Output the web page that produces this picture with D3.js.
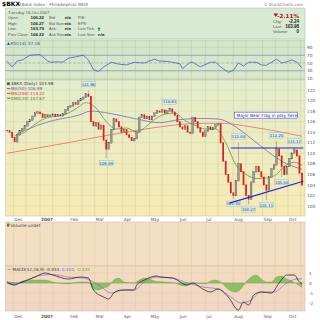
<!DOCTYPE html>
<html>
<head>
<meta charset="utf-8">
<script src="https://cdn.jsdelivr.net/npm/d3@7"></script>
<style>
  body { margin: 0; background: #fff; }
  svg { display: block; font-family: "DejaVu Sans", Verdana, sans-serif; }
</style>
</head>
<body>
<div id="chart"></div>
<script>
// Closing prices, one per two trading days, from 24-Nov-2006 to 16-Oct-2007
const closes = [
  114.3, 114.0, 113.0, 112.2, 113.5, 114.3, 114.6, 115.2, 116.0, 116.3,
  117.0, 117.6, 117.8, 117.5, 116.8, 117.3, 117.0, 117.2, 117.4, 117.0,
  117.3, 117.1, 117.5, 118.2, 118.8, 119.0, 119.6, 119.3, 120.0, 120.3,
  120.6, 121.2, 120.8, 116.0, 115.2, 115.8, 114.6, 115.3, 112.5, 110.8,
  112.0, 114.5, 116.5, 116.0, 115.0, 114.0, 114.5, 113.5, 113.0, 112.4,
  112.8, 114.0, 116.8, 117.3, 116.6, 117.0, 116.4, 117.0, 117.6, 118.0,
  117.8, 118.2, 117.6, 118.0, 118.4, 117.8, 117.2, 116.0, 115.0, 114.6,
  115.2, 114.0, 113.8, 116.8, 116.0, 114.8, 114.0, 113.2, 114.2, 115.0,
  114.5, 114.8, 115.4, 115.6, 112.0, 108.5, 106.0, 104.5, 102.5, 102.0,
  104.8, 108.0, 106.5, 104.0, 102.0, 101.3, 104.5, 106.5, 107.5, 106.5,
  105.5, 104.0, 103.0, 105.5, 107.0, 107.8, 110.8, 109.5, 107.5, 106.0,
  107.5, 109.0, 110.0, 110.6, 109.5, 106.22, 103.98
];

// labelled highs and lows: [sample, price, type]
const extremes = [
  [32, 121.96, "high"], [39, 109.09, "low"], [64, 118.61, "high"],
  [89, 101.40, "low"], [91, 112.04, "high"], [95, 100.27, "low"],
  [102, 101.11, "low"], [106, 112.25, "high"], [108, 105.50, "low"],
  [113, 111.17, "high"]
];

// moving averages: [sample, value]
const ma50 = [[4,113.7],[12,115.3],[18,116.2],[28,117.2],[33,118.0],[40,117.6],[50,116.6],[60,115.8],
  [68,116.4],[76,116.6],[83,116.5],[88,115.6],[92,114.3],[96,112.8],[100,111.3],[104,109.8],[108,108.5],
  [112,107.6],[116,106.99]];
const ma200 = [[0,110.0],[12,111.0],[24,112.0],[36,113.1],[48,114.1],[60,115.0],[72,115.6],[84,115.7],
  [96,115.0],[108,114.0],[116,113.22]];
const ema20 = [[3,113.3],[7,114.0],[11,115.5],[15,116.6],[19,117.0],[23,117.4],[27,118.4],[31,119.6],
  [35,118.6],[39,116.0],[43,114.6],[47,114.8],[51,114.0],[55,115.2],[58,116.4],[62,117.4],[66,117.6],
  [70,116.2],[74,115.3],[78,114.6],[82,114.6],[86,112.0],[90,107.8],[94,106.0],[98,105.2],[102,105.3],
  [106,106.0],[109,107.5],[113,108.3],[116,107.67]];

const rsi = [[0,55],[2,40],[4,55],[6,58],[9,70],[11,71],[13,72],[16,55],[17,52],[20,53],[22,52],[24,62],
  [27,66],[30,70],[32,58],[34,33],[36,28],[38,40],[41,52],[44,47],[47,45],[50,52],[54,50],[58,60],[60,55],
  [63,54],[65,52],[68,48],[69,35],[72,52],[73,52],[76,40],[80,52],[82,52],[84,40],[87,26],[89,31],[91,50],
  [93,42],[95,52],[98,52],[100,45],[102,44],[104,52],[106,60],[108,50],[110,53],[112,58],[114,52],[116,37.16]];

const macd = [[0,0.1],[3,-0.2],[5,0],[11,0.6],[15,1.0],[18,0.8],[24,0.4],[29,0.6],[32,0.5],[34,-0.7],
  [38,-1.4],[40,-1.6],[42,-1.0],[45,-0.7],[50,-0.7],[51,-0.2],[54,0.3],[59,0.7],[60,0.6],[65,0.5],
  [71,-0.2],[73,0],[77,-0.6],[80,-0.9],[83,-0.6],[87,-1.4],[91,-2.7],[93,-1.9],[95,-2.2],[97,-1.2],
  [100,-0.9],[104,-1.0],[107,0],[110,0.8],[113,0.8],[115,0.1],[116,-0.034]];
const signal = [[0,0.1],[5,0],[12,0.7],[18,0.85],[24,0.6],[30,0.5],[36,-0.2],[41,-1.0],[46,-0.7],
  [50,-0.7],[54,0.1],[59,0.6],[65,0.5],[71,0],[77,-0.4],[83,-0.6],[88,-1.4],[92,-2.0],[96,-1.7],
  [100,-0.9],[105,-0.9],[110,0],[114,0.4],[116,0.41]];
const hist = [[0,0],[2,-0.2],[4,-0.1],[6,0.2],[10,0.3],[15,0.3],[18,0.1],[24,-0.1],[28,0.1],[32,0.1],
  [34,-0.6],[36,-0.7],[38,-0.5],[40,-0.3],[42,0.3],[44,0.5],[46,0.1],[50,0],[52,0.3],[54,0.5],[56,0.4],
  [58,0.2],[62,0.1],[66,0],[68,-0.2],[70,-0.3],[72,-0.1],[74,0],[78,-0.1],[80,0.2],[82,0.3],[84,0.1],
  [86,-0.4],[88,-0.8],[90,-0.9],[92,-0.6],[94,0.1],[96,0.6],[98,0.8],[100,0.4],[102,0.1],[104,0.1],
  [106,0.6],[108,0.7],[110,0.4],[112,0.2],[114,-0.1],[116,-0.433]];

const priceTicks = [100, 102, 104, 106, 108, 110, 112, 114, 116, 118, 120, 122];
const rsiTicks = [10, 30, 50, 70, 90];
const macdTicks = [1, 0, -1, -2];

const W = 320, H = 320;
const L = 5.5, R = 305;

const svg = d3.select("#chart").append("svg").attr("width", W).attr("height", H);
const defs = svg.append("defs");

function grad(id, c1, c2) {
  const g = defs.append("linearGradient").attr("id", id).attr("x1", 0).attr("y1", 0).attr("x2", 0).attr("y2", 1);
  g.append("stop").attr("offset", "0%").attr("stop-color", c1);
  g.append("stop").attr("offset", "100%").attr("stop-color", c2);
}
grad("gMain", "#e3edcd", "#f7ebb3");
grad("gRsi", "#d2e5c9", "#dbe9c9");
grad("gMacd", "#f4dcc0", "#f1d5c6");

// trading days
const days = d3.timeDay.range(new Date(2006, 10, 24), new Date(2007, 9, 17))
  .filter(d => d.getDay() !== 0 && d.getDay() !== 6);
const x = d3.scaleLinear().domain([0, days.length - 1]).range([7, 302]);
const xs = k => x(k * 2);

const monthStarts = [], midMonths = [];
days.forEach((d, i) => {
  const p = days[i - 1];
  if (p && p.getMonth() !== d.getMonth()) monthStarts.push(i);
  if (p && d.getDate() >= 15 && p.getDate() < 15) midMonths.push(i);
});
const fmtMonth = d3.timeFormat("%b");

// panels
const panels = {
  head: [8, 39], rsi: [40, 80], main: [80, 216], vol: [222, 266], macd: [266, 311]
};
svg.append("rect").attr("x", L).attr("y", panels.head[0]).attr("width", R - L).attr("height", panels.head[1] - panels.head[0])
  .attr("fill", "#d9ead3").attr("stroke", "#a9bba3").attr("stroke-width", 0.5);
svg.append("rect").attr("x", L).attr("y", panels.rsi[0]).attr("width", R - L).attr("height", panels.rsi[1] - panels.rsi[0])
  .attr("fill", "url(#gRsi)").attr("stroke", "#a9bba3").attr("stroke-width", 0.5);
svg.append("rect").attr("x", L).attr("y", panels.main[0]).attr("width", R - L).attr("height", panels.main[1] - panels.main[0])
  .attr("fill", "url(#gMain)").attr("stroke", "#b8b89a").attr("stroke-width", 0.5);
svg.append("rect").attr("x", L).attr("y", panels.vol[0]).attr("width", R - L).attr("height", panels.vol[1] - panels.vol[0])
  .attr("fill", "#f4dec3").attr("stroke", "#c8b8a0").attr("stroke-width", 0.5);
svg.append("rect").attr("x", L).attr("y", panels.macd[0]).attr("width", R - L).attr("height", panels.macd[1] - panels.macd[0])
  .attr("fill", "url(#gMacd)").attr("stroke", "#c8b8a0").attr("stroke-width", 0.5);

// vertical grid
["rsi", "main", "vol", "macd"].forEach(p => {
  const [y0, y1] = panels[p];
  svg.append("g").selectAll("line").data(monthStarts.concat(midMonths)).join("line")
    .attr("x1", d => x(d)).attr("x2", d => x(d)).attr("y1", y0).attr("y2", y1)
    .attr("stroke", p === "rsi" ? "#b9cdb3" : "#d6cfa6").attr("stroke-width", 0.6);
});

// ---------- header ----------
svg.append("text").attr("x", 2).attr("y", 6).attr("font-size", 6).attr("font-weight", "bold").text("$BKX");
svg.append("text").attr("x", 20).attr("y", 6).attr("font-size", 4.2).attr("fill", "#666").text("(Bank Index - Philadelphia) INDX");
svg.append("text").attr("x", 303).attr("y", 5.5).attr("font-size", 4).attr("fill", "#777").attr("text-anchor", "end").text("© StockCharts.com");

const hdr = svg.append("g").attr("font-size", 4).attr("fill", "#555").attr("font-family", "Liberation Sans, Arial, sans-serif");
hdr.append("text").attr("x", 8).attr("y", 13.5).attr("font-size", 4.3).text("Tuesday 16-Oct-2007");
const rowsY = [19, 24.5, 30, 35.5];
const col1 = [["Open:", "106.22"], ["High:", "106.27"], ["Low:", "103.79"], ["Prev Close:", "106.22"]];
const col2 = [["Bid:", "n/a"], ["Bid Size:", "n/a"], ["Ask:", "n/a"], ["Ask Size:", "n/a"]];
const col3 = ["P/E:", "EPS:", "Last Tick:", "Last Size:"];
rowsY.forEach((yy, i) => {
  hdr.append("text").attr("x", 8).attr("y", yy).text(col1[i][0]);
  hdr.append("text").attr("x", 44).attr("y", yy).attr("text-anchor", "end").attr("font-size", 4.4)
    .attr("font-weight", "bold").attr("fill", "#222").text(col1[i][1]);
  hdr.append("text").attr("x", 49).attr("y", yy).text(col2[i][0]);
  hdr.append("text").attr("x", 71).attr("y", yy).attr("text-anchor", "end").attr("font-size", 4.4)
    .attr("font-weight", "bold").attr("fill", "#222").text(col2[i][1]);
  hdr.append("text").attr("x", 78).attr("y", yy).text(col3[i]);
});
hdr.append("text").attr("x", 98).attr("y", 35.5).attr("font-size", 4.4).attr("font-weight", "bold").attr("fill", "#222").text("n/a");
svg.append("path").attr("d", "M99,27 l1.6,2 h-1 v2 h-1.2 v-2 h-1 z").attr("fill", "#2a8a2a");

svg.append("path").attr("d", "M273.5,13.5 h4.6 l-2.3,3.6 z").attr("fill", "#b01020");
svg.append("text").attr("x", 299).attr("y", 17.5).attr("text-anchor", "end").attr("font-size", 5.6)
  .attr("font-weight", "bold").attr("fill", "#b01020").text("-2.11%");
[["Chg:", "-2.24", 22.5], ["Last:", "103.98", 27.5], ["Volume:", "0", 32.5]].forEach(r => {
  hdr.append("text").attr("x", 273).attr("y", r[2]).attr("font-size", 4.2).text(r[0]);
  hdr.append("text").attr("x", 299).attr("y", r[2]).attr("text-anchor", "end").attr("font-size", 4.5)
    .attr("font-weight", "bold").attr("fill", "#222").text(r[1]);
});

// ---------- RSI ----------
const yR = d3.scaleLinear().domain([10, 90]).range([78.5, 47.5]);
svg.append("g").selectAll("line").data(rsiTicks.filter(d => d !== 50)).join("line")
  .attr("x1", L).attr("x2", R).attr("y1", d => yR(d)).attr("y2", d => yR(d))
  .attr("stroke", d => (d === 70 || d === 30) ? "#8c9cc4" : "#b9cdb3")
  .attr("stroke-width", d => (d === 70 || d === 30) ? 0.9 : 0.5);
svg.append("line").attr("x1", L).attr("x2", R).attr("y1", yR(50)).attr("y2", yR(50))
  .attr("stroke", "#8c9cc4").attr("stroke-width", 0.6).attr("stroke-dasharray", "3,1.5");
svg.append("path").datum(rsi)
  .attr("d", d3.line().x(d => xs(d[0])).y(d => yR(d[1])))
  .attr("fill", "none").attr("stroke", "#4a5ccc").attr("stroke-width", 0.8);
svg.append("g").selectAll("text").data(rsiTicks).join("text")
  .attr("x", 307).attr("y", d => yR(d) + 1.6).attr("font-size", 4.3).attr("fill", "#555").text(d => d);
svg.append("path").attr("d", "M7,45 l1.5,-3 l1.5,3 z").attr("fill", "#3050c0");
svg.append("text").attr("x", 10.5).attr("y", 45).attr("font-size", 4.3).attr("fill", "#4455a0").text("RSI(14) 37.16");

// ---------- main price panel ----------
const y = d3.scaleLinear().domain([100, 122]).range([206, 90]);
svg.append("g").selectAll("line").data(priceTicks).join("line")
  .attr("x1", L).attr("x2", R).attr("y1", d => y(d)).attr("y2", d => y(d))
  .attr("stroke", "#d9d2a8").attr("stroke-width", 0.5);
svg.append("g").selectAll("text").data(priceTicks).join("text")
  .attr("x", 307).attr("y", d => y(d) + 1.6).attr("font-size", 4.3).attr("fill", "#555").text(d => d);

const smooth = d3.line().curve(d3.curveMonotoneX).x(d => xs(d[0])).y(d => y(d[1]));
svg.append("path").datum(ma200).attr("d", smooth).attr("fill", "none").attr("stroke", "#ef6a5a").attr("stroke-width", 0.8);
svg.append("path").datum(ma50).attr("d", smooth).attr("fill", "none").attr("stroke", "#6e6eb4").attr("stroke-width", 0.8);
svg.append("path").datum(ema20).attr("d", smooth).attr("fill", "none").attr("stroke", "#5a8a3a").attr("stroke-width", 0.7);

// wicks for labelled extremes
svg.append("g").selectAll("line").data(extremes).join("line")
  .attr("x1", d => xs(d[0])).attr("x2", d => xs(d[0]))
  .attr("y1", d => y(closes[d[0]])).attr("y2", d => y(d[1]))
  .attr("stroke", "#777").attr("stroke-width", 0.5);

// candles: body from previous close to close
const candles = closes.map((c, k) => ({ k, o: k ? closes[k - 1] : c, c }));
svg.append("g").selectAll("rect").data(candles).join("rect")
  .attr("x", d => xs(d.k) - 0.85).attr("width", 1.7)
  .attr("y", d => y(Math.max(d.o, d.c)) - 0.4)
  .attr("height", d => Math.abs(y(d.o) - y(d.c)) + 0.8)
  .attr("fill", d => d.c < d.o ? "#e01818" : "#9a9a90")
  .attr("stroke", d => d.c < d.o ? "none" : "#444")
  .attr("stroke-width", 0.3);

// extreme labels
const lab = svg.append("g").selectAll("g").data(extremes).join("g")
  .attr("transform", d => `translate(${xs(d[0])},${d[2] === "high" ? y(d[1]) - 6 : y(d[1]) + 5})`);
lab.append("rect").attr("x", -7).attr("y", -2.6).attr("width", 14).attr("height", 5.2)
  .attr("fill", "#d6eff0").attr("stroke", "#8fb3bb").attr("stroke-width", 0.4);
lab.append("text").attr("text-anchor", "middle").attr("y", 1.5).attr("font-size", 3.8).attr("fill", "#335").text(d => d[1].toFixed(2));

// annotations: flag lines
const flagTop = [[88, 111.0], [116.5, 111.0]];
const flagBottom = [[87.5, 100.55], [116.5, 104.7]];
[flagTop, flagBottom].forEach(f => {
  svg.append("line").attr("x1", xs(f[0][0])).attr("y1", y(f[0][1])).attr("x2", xs(f[1][0])).attr("y2", y(f[1][1]))
    .attr("stroke", "#2222dd").attr("stroke-width", 1.1);
});
svg.append("rect").attr("x", xs(89.5)).attr("y", y(117.8)).attr("width", 63).attr("height", 6)
  .attr("fill", "#fff").attr("stroke", "#2a2ad0").attr("stroke-width", 0.5);
svg.append("text").attr("x", xs(89.5) + 2).attr("y", y(117.8) + 4.4).attr("font-size", 4.3).attr("fill", "#1a1ad0")
  .text("Major Bear Flag in play here.");

// legend
const leg = svg.append("g").attr("font-size", 4.2);
leg.append("rect").attr("x", 7).attr("y", 82.3).attr("width", 2.8).attr("height", 2.8).attr("fill", "#555");
leg.append("text").attr("x", 11).attr("y", 85.2).attr("fill", "#333").text("$BKX (Daily) 103.98");
[["MA(50) 106.99", "#5a5ab0", 90], ["MA(200) 113.22", "#e0302a", 94.8], ["EMA(20) 107.67", "#4a7a2a", 99.6]].forEach(r => {
  leg.append("line").attr("x1", 7).attr("x2", 10.5).attr("y1", r[2] - 1.4).attr("y2", r[2] - 1.4).attr("stroke", r[1]).attr("stroke-width", 0.9);
  leg.append("text").attr("x", 11).attr("y", r[2]).attr("fill", r[1]).text(r[0]);
});

// ---------- date axes ----------
function dateAxis(yy) {
  svg.append("g").selectAll("text").data(monthStarts).join("text")
    .attr("x", d => x(d) + 1).attr("y", yy).attr("font-size", 4.3).attr("fill", "#555")
    .attr("font-weight", d => days[d].getMonth() === 0 ? "bold" : null)
    .text(d => days[d].getMonth() === 0 ? days[d].getFullYear() : fmtMonth(days[d]));
}
dateAxis(221);
dateAxis(317.5);

// ---------- volume ----------
svg.append("rect").attr("x", 7).attr("y", 223.5).attr("width", 2.4).attr("height", 3).attr("fill", "#3a8a2a");
svg.append("text").attr("x", 10.5).attr("y", 226.5).attr("font-size", 4.3).attr("fill", "#444").text("Volume undef");

// ---------- MACD ----------
const yM = d3.scaleLinear().domain([-2, 1]).range([303, 273]);
svg.append("g").selectAll("line").data(macdTicks).join("line")
  .attr("x1", L).attr("x2", R).attr("y1", d => yM(d)).attr("y2", d => yM(d))
  .attr("stroke", d => d === 0 ? "#b8a890" : "#dcc8b0").attr("stroke-width", 0.5);
svg.append("g").selectAll("text").data(macdTicks).join("text")
  .attr("x", 309).attr("y", d => yM(d) + 1.6).attr("font-size", 4.3).attr("fill", "#555").text(d => d);
svg.append("path").datum(hist)
  .attr("d", d3.area().curve(d3.curveMonotoneX).x(d => xs(d[0])).y0(yM(0)).y1(d => yM(d[1])))
  .attr("fill", "#8cc062").attr("stroke", "#5d8f3a").attr("stroke-width", 0.3);
const mline = d3.line().curve(d3.curveMonotoneX).x(d => xs(d[0])).y(d => yM(d[1]));
svg.append("path").datum(signal).attr("d", mline).attr("fill", "none").attr("stroke", "#8a6ad8").attr("stroke-width", 0.7);
svg.append("path").datum(macd).attr("d", mline).attr("fill", "none").attr("stroke", "#111").attr("stroke-width", 0.7);

const mt = svg.append("text").attr("x", 7).attr("y", 270.5).attr("font-size", 4.2);
mt.append("tspan").attr("fill", "#333").text("— MACD(12,26,9) -0.034, ");
mt.append("tspan").attr("fill", "#7a5ad0").text("0.410, ");
mt.append("tspan").attr("fill", "#6aa040").text("-0.433");
</script>
</body>
</html>
